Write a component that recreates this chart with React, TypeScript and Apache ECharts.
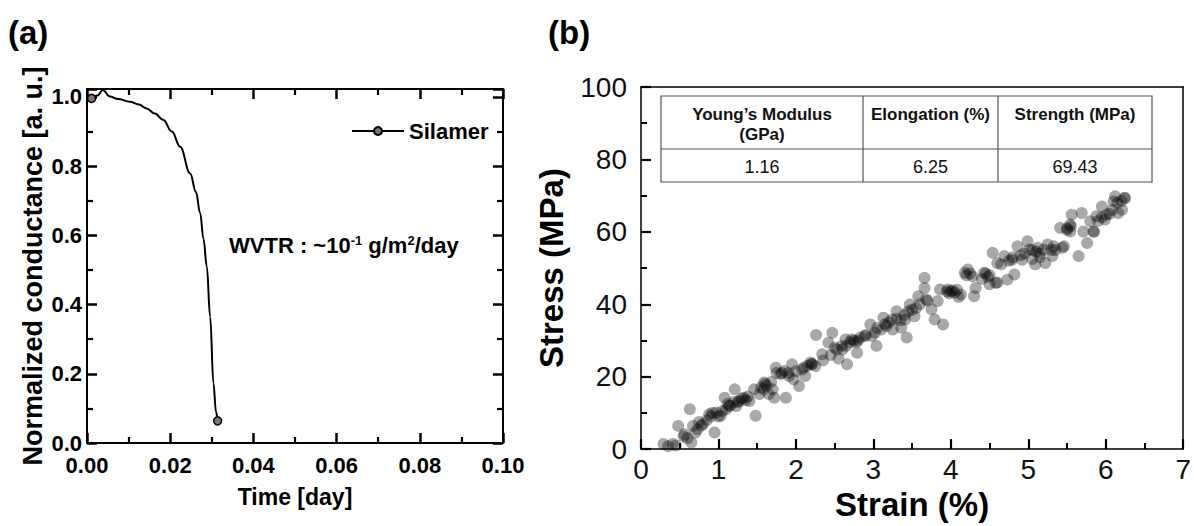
import React, { useEffect, useRef } from "react";
import * as echarts from "echarts";

// Panel (a): normalized conductance vs time
const timeDay = [0.0011, 0.0025, 0.0038, 0.0055, 0.0075, 0.0103, 0.0125, 0.0143, 0.0163, 0.0183, 0.0204, 0.0224, 0.0248, 0.0262, 0.0272, 0.028, 0.0288, 0.0296, 0.0304, 0.031, 0.0314];
const conductance = [0.996, 1.004, 1.02, 1.001, 0.994, 0.986, 0.978, 0.967, 0.952, 0.934, 0.9, 0.856, 0.779, 0.725, 0.664, 0.59, 0.51, 0.365, 0.172, 0.09, 0.064];
const timeTicks = [0, 0.02, 0.04, 0.06, 0.08, 0.1];
const conductanceMax = 1.023;

// Panel (b): stress-strain scatter [strain %, stress MPa]
const strainTicks = [0, 1, 2, 3, 4, 5, 6, 7];
const stressTicks = [0, 20, 40, 60, 80, 100];
const tensilePoints = [
  [0.29, 1.4], [0.41, 1.4], [0.35, 0.8], [0.48, 6.4], [0.56, 4.1], [0.63, 11], [0.67, 6.4], [0.65, 1.8], [0.73, 5.5], [0.8, 6.9],
  [0.88, 9.6], [0.95, 4.6], [0.97, 10.1], [1.03, 9.2], [1.1, 11], [1.08, 14.2], [1.14, 11.9], [1.21, 16.5], [1.23, 11.9], [1.27, 13.3],
  [1.33, 14.2], [1.4, 13.3], [1.48, 9.2], [1.46, 16.5], [1.53, 15.2], [1.59, 18.4], [1.65, 15.2], [1.7, 16.5], [1.72, 14.2], [1.74, 22.5],
  [1.8, 20.7], [1.87, 14.2], [1.85, 21.6], [1.91, 20.2], [1.95, 23.4], [1.97, 19.3], [2.04, 17.4], [2.08, 22], [2.12, 20.2], [2.19, 23.9],
  [2.25, 22.9], [2.26, 31.5], [2.21, 23.4], [2.34, 26.2], [2.47, 32.1], [2.42, 29.4], [2.53, 27.5], [2.59, 28.5], [2.66, 23.4], [2.64, 30.3],
  [2.72, 30.3], [2.79, 26.6], [2.83, 30.8], [2.89, 31.2], [2.96, 34.4], [2.98, 31.2], [3.04, 28.5], [3.02, 32.1], [3.13, 36.3], [3.17, 34],
  [3.24, 35.8], [3.3, 38.1], [3.36, 33.5], [3.43, 30.8], [3.41, 35.8], [3.47, 39.9], [3.53, 36.7], [3.58, 42.2], [3.66, 47.3], [3.66, 44.5],
  [3.68, 41.3], [3.75, 38.6], [3.79, 35.8], [3.9, 34.4], [3.83, 40.9], [3.86, 44.1], [3.96, 44.1], [4.05, 43.2], [4.13, 42.7], [4.18, 48.7],
  [4.0, 43.6], [4.22, 49.6], [4.28, 47.7], [4.32, 44.5], [4.3, 42.2], [4.43, 48.7], [4.54, 54.2], [4.6, 51.4], [4.58, 45.9], [4.69, 53.3],
  [4.73, 46.8], [4.82, 48.2], [4.79, 52.3], [4.86, 56], [4.92, 52.3], [4.99, 57.4], [5.01, 55.1], [5.09, 51], [5.12, 55.6], [5.2, 55.1],
  [5.22, 51.4], [5.33, 56], [5.31, 53.3], [5.41, 61.1], [5.46, 56], [5.54, 62], [5.56, 64.7], [5.54, 60.1], [5.44, 55.6], [5.65, 53.3],
  [5.69, 65.2], [5.71, 60.1], [5.76, 56.9], [5.8, 62.9], [5.84, 60.1], [5.88, 64.3], [5.95, 67], [5.99, 63.4], [6.01, 64.7], [6.1, 68.4],
  [6.16, 65.2], [6.21, 66.1], [6.25, 69.3], [6.12, 69.8],
  [0.45, 1], [0.55, 3.5], [0.6, 3], [0.7, 4.5], [0.78, 6.5], [0.85, 8], [0.92, 10], [1.0, 9], [1.05, 10.5], [1.15, 12],
  [1.25, 13], [1.3, 14], [1.35, 13.5], [1.55, 17], [1.6, 18], [1.62, 17.5], [1.75, 21], [1.82, 21], [2.0, 21.5], [2.15, 23],
  [2.2, 23.5], [2.5, 28], [2.6, 27.5], [2.7, 29.5], [2.75, 30], [2.8, 30], [2.9, 31.5], [3.1, 33], [3.2, 35], [3.3, 36],
  [3.4, 37], [3.5, 38.5], [3.6, 40], [3.7, 41], [3.95, 43.5], [4.02, 43.8], [4.1, 42], [4.2, 48], [4.45, 48.5], [4.5, 48],
  [4.65, 51], [4.8, 53], [4.95, 54], [5.05, 55], [5.15, 54], [5.3, 55], [5.5, 61], [5.55, 61.5], [5.85, 60], [5.9, 63],
  [6.05, 65], [6.15, 68], [6.24, 69.4], [4.5, 45.5], [4.6, 46], [4.4, 47], [5.05, 52.5], [5.15, 53], [5.25, 56.5], [3.25, 33],
  [3.35, 35.5], [2.35, 24.5], [2.45, 26], [2.55, 25],
  [0.75, 7.5], [0.9, 9], [1.12, 12.5], [1.2, 13], [1.38, 14.5], [1.58, 16.5], [1.68, 18.5], [1.9, 21], [2.1, 22.5], [2.65, 28.5],
  [2.78, 29.5], [3.05, 33.5], [3.15, 34.5], [3.45, 38], [3.55, 39], [3.98, 43], [4.08, 44], [4.25, 48.5], [4.48, 47.5], [4.75, 52],
  [4.9, 53.5], [5.1, 54.5], [5.35, 55], [5.5, 60.5], [5.95, 64], [6.08, 66], [6.2, 68.5],
];

const tableHeaders = ["Young’s Modulus\n(GPa)", "Elongation (%)", "Strength (MPa)"];
const tableValues = ["1.16", "6.25", "69.43"];

const FONT = "'Liberation Sans', Arial, sans-serif";

export default function App() {
  const ref = useRef<HTMLDivElement>(null);
  useEffect(() => {
    const chart = echarts.init(ref.current!, null, { renderer: "svg" });
    const last = timeDay.length - 1;
    const lineData = timeDay.map((t, i) => ({
      value: [t, conductance[i]],
      symbol: i === 0 || i === last ? "circle" : "none",
    }));

    const frameA = { show: true, onZero: false, lineStyle: { color: "#000", width: 2 } };
    const frameB = { show: true, onZero: false, lineStyle: { color: "#000", width: 1.5 } };
    const tickA = () => ({ show: true, inside: true, length: 10, lineStyle: { color: "#000", width: 2.5 } });
    const minorA = () => ({ show: true, splitNumber: 2, length: 6, lineStyle: { color: "#000", width: 2.2 } });
    const tickB = () => ({ show: true, inside: true, length: 10, lineStyle: { color: "#000", width: 2.2 } });
    const minorB = () => ({ show: true, splitNumber: 2, length: 6, lineStyle: { color: "#000", width: 2 } });

    const tx = 661, ty = 96, tw = 491, th = 86, tMid = 149;
    const cols = [661, 863, 998, 1152];
    const tableGraphics: any[] = [
      { type: "rect", shape: { x: tx, y: ty, width: tw, height: th }, style: { fill: "#fff", stroke: "#555", lineWidth: 1.2 }, z: 10 },
      { type: "line", shape: { x1: tx, y1: tMid, x2: tx + tw, y2: tMid }, style: { stroke: "#555", lineWidth: 1.2 }, z: 11 },
      { type: "line", shape: { x1: cols[1], y1: ty, x2: cols[1], y2: ty + th }, style: { stroke: "#555", lineWidth: 1.2 }, z: 11 },
      { type: "line", shape: { x1: cols[2], y1: ty, x2: cols[2], y2: ty + th }, style: { stroke: "#555", lineWidth: 1.2 }, z: 11 },
    ];
    tableHeaders.forEach((h, i) => {
      const cx = (cols[i] + cols[i + 1]) / 2;
      tableGraphics.push({
        type: "text", x: cx, y: 104, z: 12,
        style: { text: h, fontFamily: FONT, fontWeight: "bold", fontSize: 17, lineHeight: 20, fill: "#111", align: "center", verticalAlign: "top" },
      });
      tableGraphics.push({
        type: "text", x: cx, y: 167, z: 12,
        style: { text: tableValues[i], fontFamily: FONT, fontSize: 18, fill: "#111", align: "center", verticalAlign: "middle" },
      });
    });

    chart.setOption({
      animation: false,
      backgroundColor: "#fff",
      textStyle: { fontFamily: FONT },
      grid: [
        { left: 87, top: 89, width: 416, height: 354 },
        { left: 641, top: 87, width: 546, height: 363 },
      ],
      legend: {
        data: ["Silamer"],
        left: 346, top: 115,
        itemWidth: 52, itemHeight: 10,
        textStyle: { fontFamily: FONT, fontWeight: "bold", fontSize: 22, color: "#000" },
      },
      xAxis: [
        {
          type: "value", gridIndex: 0, min: timeTicks[0], max: timeTicks[timeTicks.length - 1], interval: 0.02,
          position: "bottom", axisLine: frameA, axisTick: tickA(), minorTick: minorA(), splitLine: { show: false }, minorSplitLine: { show: false },
          axisLabel: { margin: 11, fontFamily: FONT, fontWeight: "bold", fontSize: 22, color: "#000", formatter: (v: number) => v.toFixed(2) },
          name: "Time [day]", nameLocation: "middle", nameGap: 42,
          nameTextStyle: { fontFamily: FONT, fontWeight: "bold", fontSize: 23, color: "#000" },
        },
        {
          type: "value", gridIndex: 0, min: timeTicks[0], max: timeTicks[timeTicks.length - 1], interval: 0.02, position: "top",
          axisLine: frameA, axisTick: tickA(), minorTick: minorA(), splitLine: { show: false }, axisLabel: { show: false },
        },
        {
          type: "value", gridIndex: 1, min: strainTicks[0], max: strainTicks[strainTicks.length - 1], interval: 1, position: "bottom",
          axisLine: frameB, axisTick: tickB(), minorTick: minorB(), splitLine: { show: false },
          axisLabel: { margin: 6, fontFamily: FONT, fontSize: 28, color: "#111" },
          name: "Strain (%)", nameLocation: "middle", nameGap: 36,
          nameTextStyle: { fontFamily: FONT, fontWeight: "bold", fontSize: 33, color: "#000" },
        },
        {
          type: "value", gridIndex: 1, min: strainTicks[0], max: strainTicks[strainTicks.length - 1], interval: 1, position: "top",
          axisLine: frameB, axisTick: { show: false }, splitLine: { show: false }, axisLabel: { show: false },
        },
      ],
      yAxis: [
        {
          type: "value", gridIndex: 0, min: 0, max: conductanceMax, interval: 0.2, position: "left",
          axisLine: frameA, axisTick: tickA(), minorTick: minorA(), splitLine: { show: false },
          axisLabel: { margin: 5, fontFamily: FONT, fontWeight: "bold", fontSize: 22, color: "#000", showMaxLabel: false, formatter: (v: number) => v.toFixed(1) },
          name: "Normalized conductance [a. u.]", nameLocation: "middle", nameGap: 41,
          nameTextStyle: { fontFamily: FONT, fontWeight: "bold", fontSize: 27, color: "#000" },
        },
        {
          type: "value", gridIndex: 0, min: 0, max: conductanceMax, interval: 0.2, position: "right",
          axisLine: frameA, axisTick: tickA(), minorTick: minorA(), splitLine: { show: false }, axisLabel: { show: false },
        },
        {
          type: "value", gridIndex: 1, min: stressTicks[0], max: stressTicks[stressTicks.length - 1], interval: 20, position: "left",
          axisLine: frameB, axisTick: tickB(), minorTick: minorB(), splitLine: { show: false },
          axisLabel: { margin: 14, fontFamily: FONT, fontSize: 28, color: "#111" },
          name: "Stress (MPa)", nameLocation: "middle", nameGap: 73,
          nameTextStyle: { fontFamily: FONT, fontWeight: "bold", fontSize: 33, color: "#000" },
        },
        {
          type: "value", gridIndex: 1, min: stressTicks[0], max: stressTicks[stressTicks.length - 1], interval: 20, position: "right",
          axisLine: frameB, axisTick: { show: false }, splitLine: { show: false }, axisLabel: { show: false },
        },
      ],
      series: [
        {
          name: "Silamer", type: "line", xAxisIndex: 0, yAxisIndex: 0,
          data: lineData, smooth: 0.4, smoothMonotone: "x",
          symbol: "circle", symbolSize: 8, showSymbol: true,
          lineStyle: { color: "#000", width: 2 },
          itemStyle: { color: "#777", borderColor: "#000", borderWidth: 1.5 },
          z: 5,
        },
        {
          name: "tensile", type: "scatter", xAxisIndex: 2, yAxisIndex: 2,
          data: tensilePoints, symbol: "circle", symbolSize: 12,
          itemStyle: { color: "rgba(0,0,0,0.42)" },
        },
      ],
      graphic: [
        { type: "text", left: 8, top: 16, style: { text: "(a)", fontFamily: FONT, fontWeight: "bold", fontSize: 33, fill: "#000" } },
        { type: "text", left: 548, top: 16, style: { text: "(b)", fontFamily: FONT, fontWeight: "bold", fontSize: 33, fill: "#000" } },
        {
          type: "text", x: 229, y: 245,
          style: {
            text: "{n|WVTR : ~10}{s|-1}{n| g/m}{s|2}{n|/day}",
            verticalAlign: "middle",
            rich: {
              n: { fontFamily: FONT, fontWeight: "bold", fontSize: 22, fill: "#000", lineHeight: 26 },
              s: { fontFamily: FONT, fontWeight: "bold", fontSize: 13, fill: "#000", lineHeight: 26, padding: [0, 0, 10, 0] },
            },
          },
        },
        ...tableGraphics,
      ],
    });
    return () => chart.dispose();
  }, []);
  return <div ref={ref} style={{ position: "fixed", left: 0, top: 0, width: 1194, height: 526, background: "#fff" }} />;
}
